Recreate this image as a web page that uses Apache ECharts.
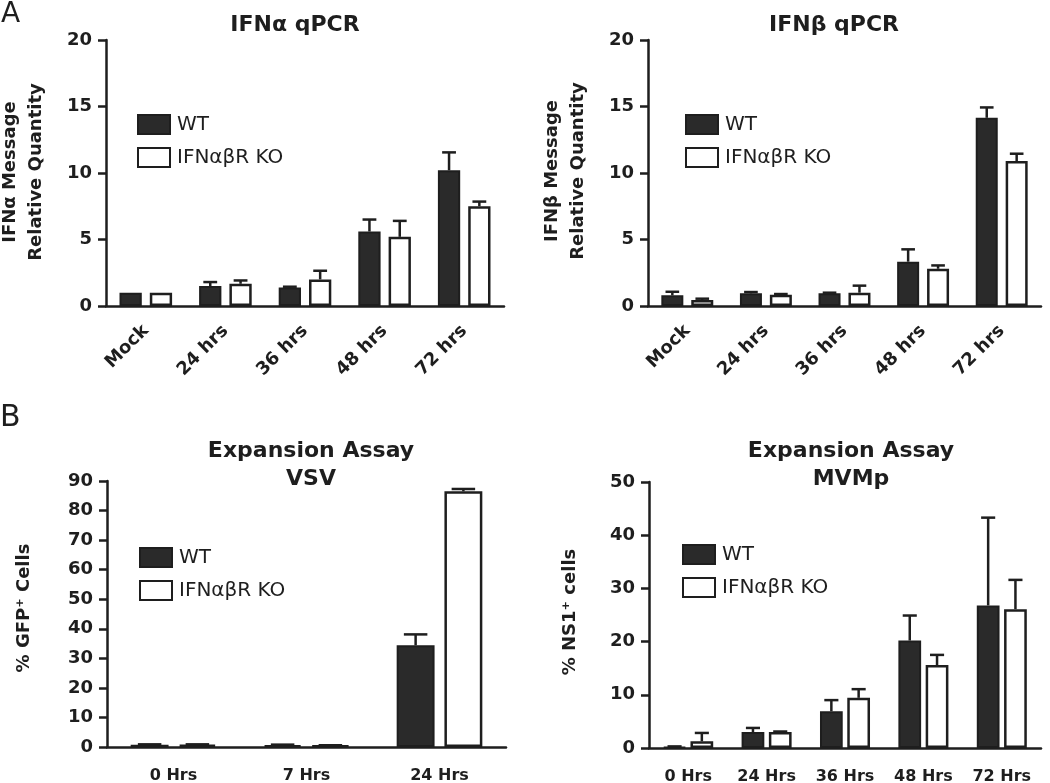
<!DOCTYPE html>
<html>
<head>
<meta charset="utf-8">
<script src="https://cdn.jsdelivr.net/npm/echarts@6/dist/echarts.min.js"></script>
<style>
  html, body { margin: 0; padding: 0; background: #ffffff; }
  #chart { width: 1050px; height: 783px; }
</style>
</head>
<body>
<div id="chart"></div>
<script>
// ---------------- DATA ----------------
var seriesNames = ['WT', 'IFNαβR KO'];

var alphaCats = ['Mock', '24 hrs', '36 hrs', '48 hrs', '72 hrs'];
var alphaWT = [1.0, 1.5, 1.4, 5.6, 10.2];
var alphaWTErr = [0, 0.3, 0.05, 0.9, 1.35];
var alphaKO = [1.0, 1.67, 2.0, 5.2, 7.5];
var alphaKOErr = [0, 0.25, 0.65, 1.2, 0.35];

var betaCats = ['Mock', '24 hrs', '36 hrs', '48 hrs', '72 hrs'];
var betaWT = [0.8, 0.95, 0.95, 3.33, 14.15];
var betaWTErr = [0.27, 0.1, 0.05, 0.93, 0.78];
var betaKO = [0.45, 0.85, 1.0, 2.8, 10.9];
var betaKOErr = [0.1, 0.05, 0.53, 0.25, 0.55];

var vsvCats = ['0 Hrs', '7 Hrs', '24 Hrs'];
var vsvWT = [0.8, 0.6, 34.4];
var vsvWTErr = [0.1, 0.2, 3.7];
var vsvKO = [0.8, 0.5, 86.5];
var vsvKOErr = [0.1, 0.1, 0.8];

var mvmCats = ['0 Hrs', '24 Hrs', '36 Hrs', '48 Hrs', '72 Hrs'];
var mvmWT = [0.2, 3.0, 6.9, 20.2, 26.8];
var mvmWTErr = [0.1, 0.77, 2.1, 4.7, 16.5];
var mvmKO = [1.26, 3.0, 9.43, 15.6, 26.1];
var mvmKOErr = [1.57, 0.1, 1.63, 1.9, 5.5];

var titles = ['IFNα qPCR', 'IFNβ qPCR', 'Expansion Assay\nVSV', 'Expansion Assay\nMVMp'];
var yNames = ['IFNα Message\nRelative Quantity', 'IFNβ Message\nRelative Quantity', '% GFP⁺ Cells', '% NS1⁺ cells'];
var yMax = [20, 20, 90, 50];
var yStep = [5, 5, 10, 10];
var panelLetters = ['A', 'B'];

// ---------------- STYLE / LAYOUT ----------------
var FONT = '"DejaVu Sans", "Liberation Sans", Arial, sans-serif';
var INK = '#1e1e1e';
var DARK = '#2a2a2a';

var panels = [
  { cats: alphaCats, wt: alphaWT, wtE: alphaWTErr, ko: alphaKO, koE: alphaKOErr,
    grid: { left: 106, top: 40, width: 398, height: 266 }, bw: 0.28, gap: 0.36, rot: 45, xFont: 18,
    titleX: 290, titleY: 6, legend: { left: 132, top: 109 }, yName: [23, 172] },
  { cats: betaCats, wt: betaWT, wtE: betaWTErr, ko: betaKO, koE: betaKOErr,
    grid: { left: 648, top: 40, width: 393, height: 266 }, bw: 0.28, gap: 0.36, rot: 45, xFont: 18,
    titleX: 829, titleY: 6, legend: { left: 680, top: 109 }, yName: [565, 171] },
  { cats: vsvCats, wt: vsvWT, wtE: vsvWTErr, ko: vsvKO, koE: vsvKOErr,
    grid: { left: 107, top: 481, width: 399, height: 266 }, bw: 0.285, gap: 0.26, rot: 0, xFont: 16,
    titleX: 306, titleY: 432, legend: { left: 134, top: 542 }, yName: [24, 608] },
  { cats: mvmCats, wt: mvmWT, wtE: mvmWTErr, ko: mvmKO, koE: mvmKOErr,
    grid: { left: 649, top: 482, width: 392, height: 266 }, bw: 0.29, gap: 0.2, rot: 0, xFont: 16,
    titleX: 846, titleY: 432, legend: { left: 677, top: 539 }, yName: [570, 612] }
];

function errRender(sign, bwFrac, gapFrac) {
  return function (params, api) {
    var cat = api.value(0), mean = api.value(1), err = api.value(2);
    var base = api.coord([cat, mean]);
    var top = api.coord([cat, mean + err]);
    var band = api.size([1, 0])[0];
    var bw = band * bwFrac;
    var off = sign * bw * (1 + gapFrac) / 2;
    var x = base[0] + off;
    var cap = bw * 0.62;
    if (err <= 0) return null;
    return {
      type: 'group',
      children: [
        { type: 'line', shape: { x1: x, y1: base[1], x2: x, y2: top[1] },
          style: { stroke: INK, lineWidth: 2.5 } },
        { type: 'line', shape: { x1: x - cap / 2, y1: top[1], x2: x + cap / 2, y2: top[1] },
          style: { stroke: INK, lineWidth: 2.5 } }
      ]
    };
  };
}

var option = {
  backgroundColor: '#ffffff',
  animation: false,
  title: [], grid: [], xAxis: [], yAxis: [], series: [], legend: [], graphic: []
};

panels.forEach(function (p, i) {
  option.title.push({
    text: titles[i], left: p.titleX, top: p.titleY, textAlign: 'center',
    textStyle: { fontFamily: FONT, fontSize: 22, fontWeight: 'bold', color: INK, lineHeight: 28 }
  });
  option.grid.push({
    left: p.grid.left, top: p.grid.top, width: p.grid.width, height: p.grid.height,
    containLabel: false, outerBoundsMode: 'none'
  });
  option.xAxis.push({
    type: 'category', gridIndex: i, data: p.cats,
    axisLine: { lineStyle: { color: INK, width: 2.5 } },
    axisTick: { alignWithLabel: true, length: 8, lineStyle: { color: INK, width: 2.5 } },
    axisLabel: {
      rotate: p.rot, margin: p.rot ? 22 : 21, interval: 0,
      fontFamily: FONT, fontSize: p.xFont, fontWeight: 'bold', color: INK
    },
    splitLine: { show: false }
  });
  option.yAxis.push({
    type: 'value', gridIndex: i, min: 0, max: yMax[i], interval: yStep[i],
    axisLine: { show: true, lineStyle: { color: INK, width: 2.5 } },
    axisTick: { show: true, length: 8, lineStyle: { color: INK, width: 2.5 } },
    axisLabel: { margin: 14, fontFamily: FONT, fontSize: 18, fontWeight: 'bold', color: INK },
    splitLine: { show: false }
  });
  option.series.push({
    name: seriesNames[0], type: 'bar', xAxisIndex: i, yAxisIndex: i,
    data: p.wt, barWidth: (p.bw * 100) + '%', barGap: (p.gap * 100) + '%',
    itemStyle: { color: DARK, borderColor: INK, borderWidth: 2 }, z: 2
  });
  option.series.push({
    name: seriesNames[1], type: 'bar', xAxisIndex: i, yAxisIndex: i,
    data: p.ko, barWidth: (p.bw * 100) + '%', barGap: (p.gap * 100) + '%',
    itemStyle: { color: '#ffffff', borderColor: INK, borderWidth: 2.5 }, z: 2
  });
  option.series.push({
    type: 'custom', xAxisIndex: i, yAxisIndex: i, z: 3,
    renderItem: errRender(-1, p.bw, p.gap),
    encode: { x: 0, y: 1 },
    data: p.cats.map(function (c, k) { return [k, p.wt[k], p.wtE[k]]; })
  });
  option.series.push({
    type: 'custom', xAxisIndex: i, yAxisIndex: i, z: 3,
    renderItem: errRender(1, p.bw, p.gap),
    encode: { x: 0, y: 1 },
    data: p.cats.map(function (c, k) { return [k, p.ko[k], p.koE[k]]; })
  });
  option.legend.push({
    data: seriesNames, orient: 'vertical', left: p.legend.left, top: p.legend.top,
    itemWidth: 32, itemHeight: 19, itemGap: 12, selectedMode: false, icon: 'rect',
    textStyle: { fontFamily: FONT, fontSize: 20, color: INK, padding: [0, 0, 0, 2] }
  });
  option.graphic.push({
    type: 'text', x: p.yName[0], y: p.yName[1], rotation: Math.PI / 2,
    style: {
      text: yNames[i], fontFamily: FONT, fontSize: 18, fontWeight: 'bold', fill: INK,
      align: 'center', verticalAlign: 'middle', lineHeight: 26
    }
  });
});

option.graphic.push({
  type: 'text', x: 1, y: 1,
  style: { text: panelLetters[0], fontFamily: FONT, fontSize: 28, fill: INK }
});
option.graphic.push({
  type: 'text', x: 0, y: 403,
  style: { text: panelLetters[1], fontFamily: FONT, fontSize: 30, fill: INK }
});

var chart = echarts.init(document.getElementById('chart'), null, { renderer: 'canvas' });
chart.setOption(option);
</script>
</body>
</html>
